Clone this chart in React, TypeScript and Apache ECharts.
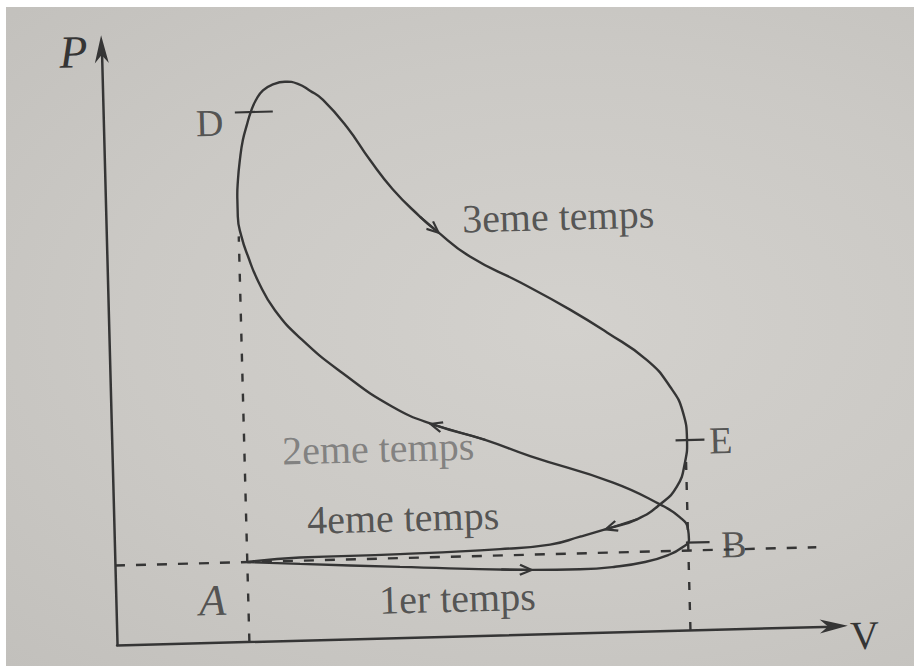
import { useEffect, useRef } from "react";
import * as echarts from "echarts";

// Indicator diagram of a four-stroke engine, P against V (arbitrary units).
// The closed path runs A -> B (1er temps), B -> D (2eme temps),
// D -> E (3eme temps) and E -> A (4eme temps).
const cycleV = [
  // 1er temps, round the nose at B
  60, 83.9, 129.1, 186.6, 210.7, 226.6, 240.2, 250.8, 257.2, 260.4, 260.1, 256.6, 247.7,
  // 2eme temps, up to D
  226.7, 189.4, 169.2, 146.7, 127.4, 105.2, 87.4, 75.5, 68.4, 63.9, 61.2, 59.8,
  59.8, 60.3, 61.4, 63.0, 65.0, 66.9, 69.4, 72.7, 77.3, 82.7,
  // 3eme temps, down to E
  88.6, 94.0, 99.8, 110.3, 120.3, 130.4, 142.3, 149.0, 164.5, 186.9, 209.2, 225.7,
  243.5, 253.6, 259.2, 260.7, 259.5, 255.6, 247.7,
  // 4eme temps, back to A
  237.1, 224.8, 211.1, 197.4, 174.7, 129.3, 83.9, 60,
];
const cycleP = [
  1.0, 0.96, 0.89, 0.81, 0.8, 0.82, 0.87, 0.95, 1.04, 1.14, 1.27, 1.42, 1.59,
  1.88, 2.24, 2.46, 2.66, 2.91, 3.35, 3.78, 4.16, 4.52, 4.85, 5.1, 5.35,
  5.57, 5.81, 6.06, 6.31, 6.5, 6.66, 6.81, 6.93, 7.0, 7.03,
  7.0, 6.91, 6.79, 6.44, 6.02, 5.64, 5.29, 5.12, 4.77, 4.43, 4.07, 3.77,
  3.41, 3.07, 2.74, 2.4, 2.11, 1.81, 1.59,
  1.41, 1.31, 1.21, 1.12, 1.08, 1.05, 1.04, 1.0,
];

// Direction arrows along the path: [from, to] in (V, P)
const arrowFrom = [[175, 0.825], [169.2, 2.46], [142.3, 5.29], [237.1, 1.41]];
const arrowTo = [[186.6, 0.81], [146.7, 2.66], [149.0, 5.12], [224.8, 1.31]];

// Dashed guides: intake pressure line and the two dead-centre volumes
const guideFrom = [[0, 1.0], [60, 0], [260, 0]];
const guideTo = [[318, 1.0], [60, 5.1], [260, 2.26]];

// Short marks across the path at D, E and B
const markP = [6.66, 2.39, 1.1];
const markV0 = [59.7, 255.5, 259];
const markV1 = [76.9, 268.6, 269.7];

// Point letters
const pointNames = ["A", "B", "D", "E"];
const pointLabelV = [37.9, 275.2, 42.2, 271.0];
const pointLabelP = [0.52, 1.06, 6.53, 2.37];

// Stroke names
const strokeNames = ["1er temps", "2eme temps", "3eme temps", "4eme temps"];
const strokeLabelV = [119.5, 77.3, 161.6, 87.8];
const strokeLabelP = [0.47, 2.38, 5.24, 1.5];

const V_MAX = 325;
const P_MAX = 7.5;

const INK = "#353535";
const SERIF = "'Liberation Serif', 'Times New Roman', serif";
const STEALTH = "path://M6,0 L12,24 L6,17 L0,24 Z";
const CHEVRON = "path://M5,0 L10,12 L8.4,12.9 L5,4.6 L1.6,12.9 L0,12 Z";

function buildOption() {
  const cycle = cycleV.map((v, i) => [v, cycleP[i]]);

  const guideSeries = guideFrom.map((a, i) => ({
    type: "line",
    data: [a, guideTo[i]],
    showSymbol: false,
    silent: true,
    z: 2,
    lineStyle: {
      color: INK,
      width: 2.4,
      type: i === 0 ? [10, 11] : [8, 12],
    },
  }));

  const markSeries = markP.map((p, i) => ({
    type: "line",
    data: [
      [markV0[i], p],
      [markV1[i], p],
    ],
    showSymbol: false,
    silent: true,
    z: 3,
    lineStyle: { color: INK, width: 2.2 },
  }));

  const cycleSeries = {
    type: "line",
    data: cycle,
    smooth: 0.5,
    showSymbol: false,
    silent: true,
    z: 4,
    lineStyle: { color: INK, width: 2.4 },
    markLine: {
      silent: true,
      symbol: ["none", CHEVRON],
      symbolSize: [12, 15],
      lineStyle: { color: INK, width: 2.2, type: "solid" },
      label: { show: false },
      data: arrowFrom.map((a, i) => [{ coord: a }, { coord: arrowTo[i] }]),
    },
  };

  const pointLabels = {
    type: "scatter",
    symbolSize: 1,
    silent: true,
    z: 5,
    itemStyle: { color: "transparent" },
    data: pointNames.map((n, i) => ({
      name: n,
      value: [pointLabelV[i], pointLabelP[i]],
      label: {
        fontSize: n === "A" ? 44 : 38,
        fontStyle: n === "A" ? "italic" : "normal",
      },
    })),
    label: {
      show: true,
      position: [0, 0],
      align: "left",
      verticalAlign: "middle",
      formatter: "{b}",
      color: INK,
      fontFamily: SERIF,
    },
  };

  const strokeLabels = {
    type: "scatter",
    symbolSize: 1,
    silent: true,
    z: 5,
    itemStyle: { color: "transparent" },
    data: strokeNames.map((n, i) => ({
      name: n,
      value: [strokeLabelV[i], strokeLabelP[i]],
      label: { color: i === 1 ? "#6e6e6e" : INK },
    })),
    label: {
      show: true,
      position: [0, 0],
      align: "left",
      verticalAlign: "middle",
      formatter: "{b}",
      fontSize: 40,
      fontFamily: SERIF,
    },
  };

  const axisLine = {
    show: true,
    onZero: false,
    symbol: ["none", STEALTH],
    symbolSize: [15, 28],
    lineStyle: { color: INK, width: 2.5 },
  };

  return {
    animation: false,
    backgroundColor: "transparent",
    grid: { left: 109, right: 88, top: 40, bottom: 29 },
    xAxis: {
      type: "value",
      min: 0,
      max: V_MAX,
      name: "V",
      nameLocation: "end",
      nameGap: 16,
      nameTextStyle: {
        fontSize: 40,
        lineHeight: 20,
        fontFamily: SERIF,
        color: INK,
        align: "left",
        verticalAlign: "top",
      },
      axisLine,
      axisTick: { show: false },
      axisLabel: { show: false },
      splitLine: { show: false },
    },
    yAxis: {
      type: "value",
      min: 0,
      max: P_MAX,
      name: "P",
      nameLocation: "end",
      nameGap: -2,
      nameTextStyle: {
        fontSize: 46,
        fontStyle: "italic",
        fontFamily: SERIF,
        color: INK,
        align: "right",
        verticalAlign: "middle",
        padding: [0, 14, 0, 0],
      },
      axisLine,
      axisTick: { show: false },
      axisLabel: { show: false },
      splitLine: { show: false },
    },
    series: [...guideSeries, ...markSeries, cycleSeries, pointLabels, strokeLabels],
  };
}

export default function App() {
  const chartRef = useRef<HTMLDivElement>(null);

  useEffect(() => {
    const chart = echarts.init(chartRef.current!, null, { renderer: "svg" });
    chart.setOption(buildOption() as any);
    return () => chart.dispose();
  }, []);

  return (
    <div
      style={{
        position: "fixed",
        left: 0,
        top: 0,
        width: 914,
        height: 666,
        background: "#ffffff",
        overflow: "hidden",
      }}
    >
      <div
        style={{
          position: "absolute",
          left: 6,
          top: 7,
          right: 0,
          bottom: 0,
          background:
            "radial-gradient(ellipse at 62% 48%, #d3d1cd 0%, #cbc9c5 55%, #c2c0bc 100%)",
        }}
      />
      <div
        ref={chartRef}
        style={{
          position: "absolute",
          left: 0,
          top: 0,
          width: 914,
          height: 666,
          transform: "rotate(-1.5deg)",
        }}
      />
    </div>
  );
}
